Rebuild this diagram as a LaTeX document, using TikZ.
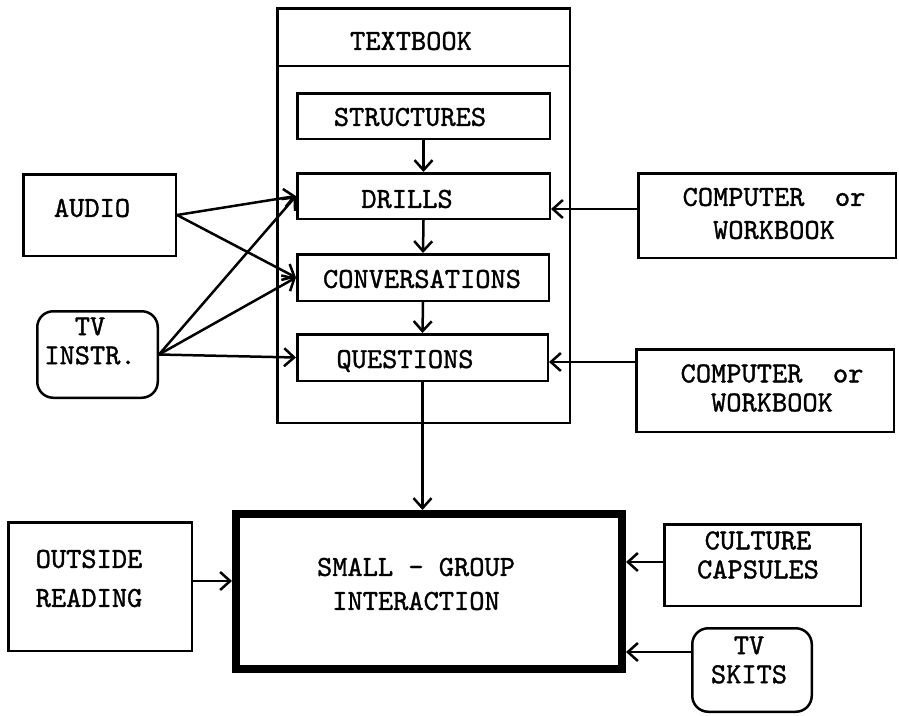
\documentclass[tikz,border=0pt]{standalone}
\usepackage{fontspec}
\newfontfamily\tw{lmmono10-regular.otf}[FakeBold=1.2]
\usetikzlibrary{arrows.meta}
\begin{document}
\begin{tikzpicture}[x=1pt,y=-1pt,
  box/.style={draw,line width=2.5pt,inner sep=0pt},
  rbox/.style={box,rounded corners=16pt},
  mainbox/.style={draw,line width=8pt,inner sep=0pt},
  txt/.style={inner sep=0pt,align=center,font=\tw\fontsize{29}{33}\selectfont},
  lines/.style={font=\tw\fontsize{29}{#1}\selectfont},
  arr/.style={line width=2.5pt,-{Straight Barb[length=10pt,width=18pt]}}]
\useasboundingbox (0,0) rectangle (899,715);
% textbook frame
\node[box,minimum width=292.5pt,minimum height=414.5pt] (textbook) at (423.5,215.5) {};
\draw[line width=2.5pt] (textbook.west |- 0,66) -- (textbook.east |- 0,66);
\node[txt] (textbookt) at (411,41) {TEXTBOOK};
% inner boxes
\node[box,minimum width=252.5pt,minimum height=45.5pt] (structures) at (423.5,116) {};
\node[txt] (structurest) at (410,117) {STRUCTURES};
\node[box,minimum width=252.5pt,minimum height=45.5pt] (drills) at (423.5,196) {};
\node[txt] (drillst) at (407,199) {DRILLS};
\node[box,minimum width=251.5pt,minimum height=46.5pt] (conv) at (423,277.5) {};
\node[txt] (convt) at (422,279) {CONVERSATIONS};
\node[box,minimum width=250.5pt,minimum height=46.5pt] (questions) at (422.5,357.5) {};
\node[txt] (questionst) at (405,361) {QUESTIONS};
% left
\node[box,minimum width=152.5pt,minimum height=81.5pt] (audio) at (99.5,215) {};
\node[txt] (audiot) at (92,208) {AUDIO};
\node[rbox,minimum width=120.5pt,minimum height=86.5pt] (tvinstr) at (97.5,354.5) {};
\node[txt,lines=29] (tvinstrt) at (90,341) {TV\\INSTR.};
% right
\node[box,minimum width=257.5pt,minimum height=84.5pt] (comp1) at (767,215.5) {};
\node[txt,lines=33] (comp1t) at (774,213.5) {COMPUTER\ \ or\\WORKBOOK};
\node[box,minimum width=257.5pt,minimum height=82.5pt] (comp2) at (765,390.5) {};
\node[txt,lines=29] (comp2t) at (772,388) {COMPUTER\ \ or\\WORKBOOK};
% bottom
\node[mainbox,minimum width=386pt,minimum height=155pt] (main) at (429,591.5) {};
\node[txt,lines=34] (maint) at (416,584) {SMALL - GROUP\\INTERACTION};
\node[box,minimum width=183.5pt,minimum height=128.5pt] (outside) at (100,586.5) {};
\node[txt,lines=39] (outsidet) at (89,578.5) {OUTSIDE\\READING};
\node[box,minimum width=196.5pt,minimum height=81.5pt] (culture) at (762.5,565) {};
\node[txt,lines=29] (culturet) at (758,555) {CULTURE\\CAPSULES};
\node[rbox,minimum width=119.5pt,minimum height=83.5pt] (skits) at (752,670) {};
\node[txt,lines=29] (skitst) at (749,660) {TV\\SKITS};
% connectors
\draw[arr] (structures.south) -- (drills.north);
\draw[arr] (drills.south) -- (conv.north);
\draw[arr] (conv.south) -- (questions.north);
\draw[arr] (questions.south) -- (main.north -| questions.south);
\draw[arr] (audio.east) -- (drills.west);
\draw[arr] (audio.east) -- (conv.west);
\draw[arr] (tvinstr.east) -- (drills.west);
\draw[arr] (tvinstr.east) -- (conv.west);
\draw[arr] (tvinstr.east) -- (questions.west);
\draw[arr] (comp1.west |- 0,209) -- (drills.east |- 0,209);
\draw[arr] (comp2.west |- 0,362) -- (questions.east |- 0,362);
\draw[arr] (outside.east |- 0,581) -- (main.west |- 0,581);
\draw[arr] (culture.west |- 0,562) -- (main.east |- 0,562);
\draw[arr] (skits.west |- 0,652) -- (main.east |- 0,652);
\end{tikzpicture}
\end{document}
